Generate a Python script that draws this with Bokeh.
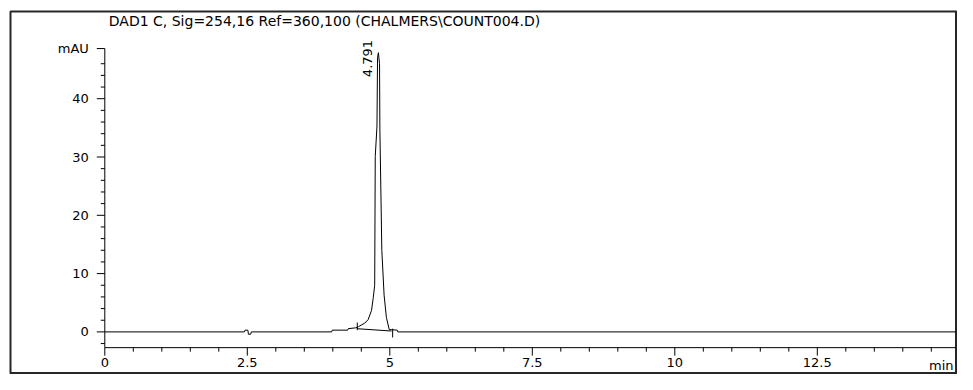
import math
from bokeh.plotting import figure
from bokeh.models import Range1d
from bokeh.core.properties import value
from bokeh.embed import file_html
from bokeh.resources import INLINE

# ---------------- data ----------------
title_text = "DAD1 C, Sig=254,16 Ref=360,100 (CHALMERS\\COUNT004.D)"

time_min = [0.0, 2.45, 2.46, 2.51, 2.52, 2.56, 2.57, 3.98, 3.99, 4.26,
            4.27, 4.40, 4.45, 4.56, 4.62, 4.68, 4.71, 4.735, 4.745, 4.775,
            4.785, 4.80, 4.82, 4.826, 4.86, 4.90, 4.94, 4.99, 5.13, 5.14,
            14.94]
signal_mau = [0.0, 0.0, 0.3, 0.3, -0.4, -0.4, 0.0, 0.0, 0.3, 0.3,
              0.55, 0.7, 0.9, 1.5, 2.1, 3.7, 5.9, 8.0, 30.1, 35.3,
              47.0, 47.9, 46.0, 34.8, 14.0, 6.3, 2.5, 0.4, 0.3, 0.0,
              0.0]

# integration baseline and peak start / end markers
int_base_t = [4.42, 5.03]
int_base_y = [0.55, 0.15]
marker_t = [4.43, 5.05]
marker_top = [1.6, 0.55]
marker_bottom = [0.3, -0.95]

peak_label = "4.791"
peak_label_t = 4.607
peak_label_y = 43.7

# axes (time axis in min, signal axis in mAU)
x_axis_start, x_axis_end = 0.0, 14.94
y_axis_start, y_axis_end = -2.7, 48.6
x_major = [0, 2.5, 5, 7.5, 10, 12.5]
x_major_labels = ["0", "2.5", "5", "7.5", "10", "12.5"]
x_minor = [0.5, 1, 1.5, 2, 3, 3.5, 4, 4.5, 5.5, 6, 6.5, 7, 8, 8.5, 9, 9.5,
           10.5, 11, 11.5, 12, 13, 13.5, 14, 14.5]
x_unit_label = "min"
y_major = [0, 10, 20, 30, 40, 48.6]
y_major_labels = ["0", "10", "20", "30", "40", "mAU"]
y_minor = [-2, 2, 4, 6, 8, 12, 14, 16, 18, 22, 24, 26, 28, 32, 34, 36, 38,
           42, 44, 46]

# ---------------- layout (page image with a framed box) ----------------
FONT = "DejaVu Sans"
W, H = 957, 374
# frame box inside the canvas (px): white margin left/top as in the print
FL, FT, FR, FB = 10, 11, 1, 1
frame_w, frame_h = W - FL - FR, H - FT - FB
# screen scale of the data (px per min, px per mAU) and origin inside frame
PX_MIN, PX_MAU = 57.0, 5.83
ORIGIN_X, ORIGIN_Y = 94.3, 320.4     # px from frame left / frame top

x_view = (-ORIGIN_X / PX_MIN, (frame_w - ORIGIN_X) / PX_MIN)
y_view = (-(frame_h - ORIGIN_Y) / PX_MAU, ORIGIN_Y / PX_MAU)

p = figure(width=W, height=H,
           x_range=Range1d(*x_view), y_range=Range1d(*y_view),
           x_axis_type=None, y_axis_type=None,
           output_backend="svg", toolbar_location=None,
           min_border_left=FL, min_border_top=FT,
           min_border_right=FR, min_border_bottom=FB)
p.border_fill_color = "white"
p.background_fill_color = "white"
p.outline_line_color = "#262626"
p.outline_line_width = 2

dx = 1.0 / PX_MIN     # data units per px
dy = 1.0 / PX_MAU

MAJ, MIN = 8, 4       # tick lengths in px
ink = dict(line_color="black", line_width=1)

# thicker right / bottom edge of the box
p.segment(x0=[x_view[1], x_view[0]], y0=[y_view[0], y_view[0]],
          x1=[x_view[1], x_view[1]], y1=[y_view[1], y_view[0]],
          line_color="#262626", line_width=3)

# axis lines
p.segment(x0=[x_axis_start, x_axis_start], y0=[y_axis_start, y_axis_start],
          x1=[x_axis_start, x_axis_end], y1=[y_axis_end, y_axis_start], **ink)

# y ticks (pointing left)
p.segment(x0=[x_axis_start - MAJ * dx] * len(y_major), y0=y_major,
          x1=[x_axis_start] * len(y_major), y1=y_major, **ink)
p.segment(x0=[x_axis_start - MIN * dx] * len(y_minor), y0=y_minor,
          x1=[x_axis_start] * len(y_minor), y1=y_minor, **ink)
# x ticks (pointing down)
p.segment(x0=x_major, y0=[y_axis_start] * len(x_major),
          x1=x_major, y1=[y_axis_start - MAJ * dy] * len(x_major), **ink)
p.segment(x0=x_minor, y0=[y_axis_start] * len(x_minor),
          x1=x_minor, y1=[y_axis_start - MIN * dy] * len(x_minor), **ink)

# tick labels
p.text(x=[x_axis_start - 16 * dx] * len(y_major), y=y_major,
       text=y_major_labels, text_align="right", text_baseline="middle",
       text_font=value(FONT), text_font_size="13px", text_color="black")
p.text(x=x_major, y=[y_axis_start - 10 * dy] * len(x_major),
       text=x_major_labels, text_align="center", text_baseline="top",
       text_font=value(FONT), text_font_size="13px", text_color="black")
p.text(x=[x_view[1] - 3 * dx], y=[y_axis_start - 10 * dy],
       text=[x_unit_label], text_align="right", text_baseline="top",
       text_font=value(FONT), text_font_size="13px", text_color="black")

# title line at the top of the box
p.text(x=[x_axis_start + 4 * dx], y=[y_axis_end + 4.66],
       text=[title_text], text_align="left", text_baseline="middle",
       text_font=value(FONT), text_font_size="14px", text_color="black")

# chromatogram trace
p.line(time_min, signal_mau, **ink)
# integration baseline + markers
p.line(int_base_t, int_base_y, **ink)
p.segment(x0=marker_t, y0=marker_bottom, x1=marker_t, y1=marker_top, **ink)

# retention-time label of the peak
p.text(x=[peak_label_t], y=[peak_label_y], text=[peak_label],
       angle=math.pi / 2, text_align="left", text_baseline="middle",
       text_font=value(FONT), text_font_size="13px", text_color="black")

open("out.html", "w").write(file_html(p, INLINE))
